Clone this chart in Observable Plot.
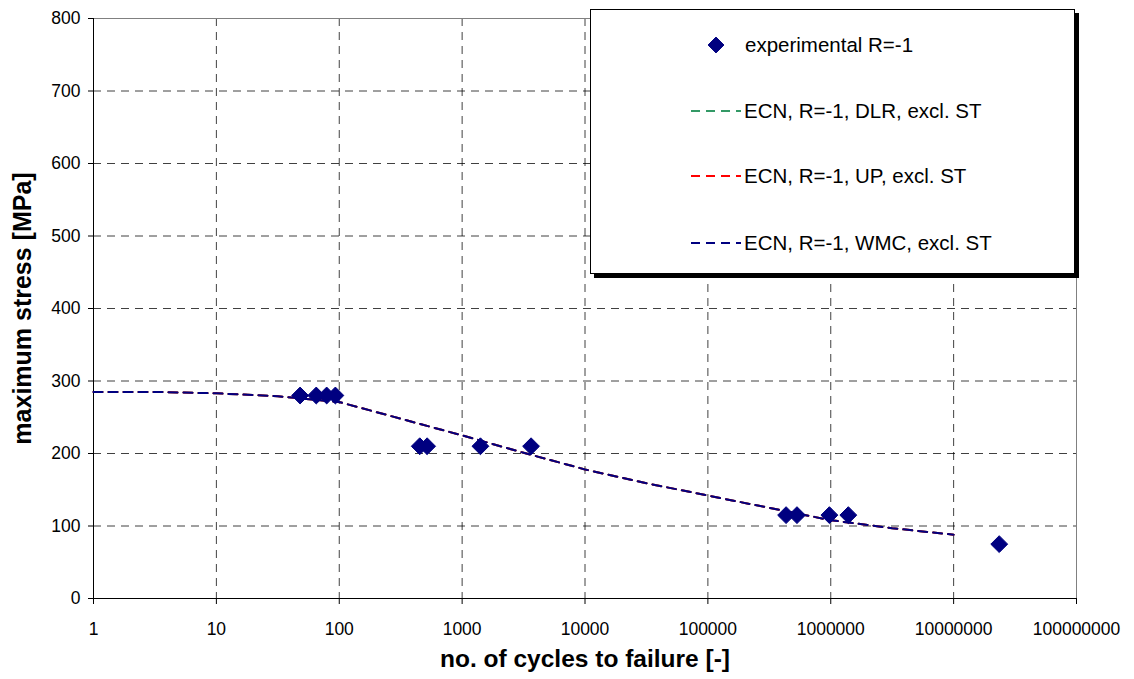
<!DOCTYPE html>
<html>
<head>
<meta charset="utf-8">
<script src="https://cdn.jsdelivr.net/npm/d3@7"></script>
<script src="https://cdn.jsdelivr.net/npm/@observablehq/plot@0.6"></script>
<style>
  body { margin: 0; background: #fff; }
  #wrap { position: relative; width: 1134px; height: 679px; font-family: "Liberation Sans", Arial, sans-serif; }
  #legend { position: absolute; left: 590px; top: 9px; width: 483px; height: 263px; background: #fff;
            border: 1px solid #000; box-shadow: 4px 4px 0 #000; }
  .row { position: absolute; left: 0; height: 30px; display: flex; align-items: center; font-size: 20.5px; color: #000; }
  .row svg { display: block; }
</style>
</head>
<body>
<div id="wrap"></div>
<script>
// experimental data, R=-1
const expCycles = [48, 65, 79, 93, 452, 519, 1409, 3640, 433000, 531000, 975000, 1390000, 23500000];
const expStress = [280, 280, 280, 280, 210, 210, 210, 210, 115, 115, 115, 115, 75];

// ECN fits (DLR, UP, WMC excl. ST) – they coincide
const fitCycles = [1, 3.16, 10, 31.6, 100, 316, 1000, 3162, 10000, 31623, 100000, 316228, 1000000, 3162278, 10000000];
const fitDLR = [285, 285, 283, 279, 271, 248, 225, 201, 178, 159, 142, 125, 108, 97, 88];
const fitUP  = [285, 285, 283, 279, 271, 248, 225, 201, 178, 159, 142, 125, 108, 97, 88];
const fitWMC = [285, 285, 283, 279, 271, 248, 225, 201, 178, 159, 142, 125, 108, 97, 88];

const xTicks = [1, 10, 100, 1000, 10000, 100000, 1000000, 10000000, 100000000];
const yTicks = [0, 100, 200, 300, 400, 500, 600, 700, 800];
const xGrid = [10, 100, 1000, 10000, 100000, 1000000, 10000000];
const yGrid = [100, 200, 300, 400, 500, 600, 700];

const legendItems = [
  {label: "experimental R=-1", color: "#000080", type: "dot"},
  {label: "ECN, R=-1, DLR, excl. ST", color: "#339966", type: "line"},
  {label: "ECN, R=-1, UP, excl. ST", color: "#FF0000", type: "line"},
  {label: "ECN, R=-1, WMC, excl. ST", color: "#000080", type: "line"}
];

const exp = expCycles.map((n, i) => ({n, s: expStress[i]}));
const mk = arr => fitCycles.map((n, i) => ({n, s: arr[i]}));

const dash = "9,6";
const chart = Plot.plot({
  width: 1134,
  height: 679,
  marginLeft: 93,
  marginRight: 58,
  marginTop: 18,
  marginBottom: 81,
  style: {fontFamily: "'Liberation Sans', Arial, sans-serif", fontSize: "17px", background: "#fff", color: "#000"},
  x: {type: "log", domain: [1, 1e8]},
  y: {domain: [0, 800]},
  marks: [
    Plot.ruleX(xGrid, {stroke: "#000", strokeOpacity: 0.75, strokeDasharray: "8,6"}),
    Plot.ruleY(yGrid, {stroke: "#000", strokeOpacity: 0.75, strokeDasharray: "8,6"}),
    Plot.ruleY([800], {stroke: "#808080"}),
    Plot.ruleX([1e8], {stroke: "#808080"}),
    Plot.axisX({ticks: xTicks, tickFormat: d => String(d), tickSize: 6, tickPadding: 18, label: null, fontSize: 17.5}),
    Plot.axisY({ticks: yTicks, tickFormat: d => String(d), tickSize: 5, tickPadding: 8, label: null, fontSize: 17.5}),
    Plot.ruleX([1], {stroke: "#000"}),
    Plot.ruleY([0], {stroke: "#000"}),
    Plot.line(mk(fitDLR), {x: "n", y: "s", stroke: "#339966", strokeWidth: 2, strokeDasharray: dash}),
    Plot.line(mk(fitUP), {x: "n", y: "s", stroke: "#FF0000", strokeWidth: 2, strokeDasharray: dash}),
    Plot.line(mk(fitWMC), {x: "n", y: "s", stroke: "#000080", strokeWidth: 2, strokeDasharray: dash}),
    Plot.dot(exp, {x: "n", y: "s", symbol: "diamond2", r: 7.6, fill: "#000080", stroke: "#000080", strokeWidth: 1}),
    Plot.text(["no. of cycles to failure [-]"], {frameAnchor: "bottom", textAnchor: "middle", dy: 68, fontSize: 24.5, fontWeight: "bold", text: d => d}),
    Plot.text(["maximum stress [MPa]"], {frameAnchor: "left", textAnchor: "middle", dx: -71, rotate: -90, fontSize: 25, fontWeight: "bold", text: d => d})
  ]
});

const wrap = document.getElementById("wrap");
wrap.appendChild(chart);

const legend = document.createElement("div");
legend.id = "legend";
const rowTops = [20, 86, 151, 218];
legendItems.forEach((it, i) => {
  const row = document.createElement("div");
  row.className = "row";
  row.style.top = rowTops[i] + "px";
  row.style.left = it.type === "dot" ? "114px" : "100px";
  const svg = d3.create("svg").attr("width", it.type === "dot" ? 40 : 53).attr("height", 30);
  if (it.type === "dot") {
    svg.append("path").attr("d", d3.symbol(d3.symbolDiamond2, 160)()).attr("transform", "translate(11,15)")
      .attr("fill", it.color).attr("stroke", it.color);
  } else {
    svg.append("line").attr("x1", 0).attr("x2", 50).attr("y1", 15).attr("y2", 15)
      .attr("stroke", it.color).attr("stroke-width", 2).attr("stroke-dasharray", "9,6");
  }
  row.appendChild(svg.node());
  const span = document.createElement("span");
  span.textContent = it.label;
  row.appendChild(span);
  legend.appendChild(row);
});
wrap.appendChild(legend);
</script>
</body>
</html>
